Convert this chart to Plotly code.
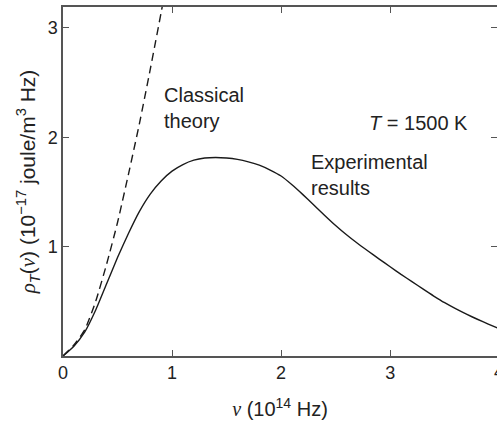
import plotly.graph_objects as go

exp_x = [0, 0.1, 0.2, 0.3, 0.4, 0.5, 0.6, 0.7, 0.8, 0.9, 1.0, 1.1, 1.2, 1.3, 1.4, 1.5,
         1.6, 1.7, 1.8, 1.9, 2.0, 2.1, 2.2, 2.3, 2.4, 2.5, 2.6, 2.7, 2.8, 2.9, 3.0,
         3.1, 3.2, 3.3, 3.4, 3.5, 3.6, 3.7, 3.8, 3.9, 4.0]
exp_y = [0, 0.09, 0.22, 0.42, 0.66, 0.90, 1.12, 1.32, 1.48, 1.60, 1.69, 1.75, 1.79, 1.81,
         1.815, 1.81, 1.797, 1.775, 1.745, 1.70, 1.645, 1.565, 1.475, 1.38, 1.285, 1.193,
         1.108, 1.03, 0.957, 0.886, 0.816, 0.746, 0.68, 0.613, 0.548, 0.487, 0.432, 0.382,
         0.336, 0.292, 0.25]

# Classical theory (dashed)
cls_x = [0, 0.1, 0.2, 0.3, 0.4, 0.5, 0.6, 0.7, 0.8, 0.9, 0.93]
cls_y = [0, 0.10, 0.24, 0.50, 0.84, 1.22, 1.66, 2.12, 2.62, 3.14, 3.30]

x_ticks = [0, 1, 2, 3]
y_ticks = [1, 2, 3]

ink = "#1a1a1a"
axis_col = "#555555"
FONT = "Liberation Sans, Arial, Helvetica, sans-serif"
SERIF = "'Liberation Serif', 'Times New Roman', serif"

fig = go.Figure()
fig.add_trace(go.Scatter(x=exp_x, y=exp_y, mode="lines",
                         line=dict(color=ink, width=1.4, shape="spline", smoothing=0.5),
                         showlegend=False, hoverinfo="skip"))
fig.add_trace(go.Scatter(x=cls_x, y=cls_y, mode="lines",
                         line=dict(color=ink, width=1.4, dash="8px,5px", shape="spline", smoothing=0.5),
                         showlegend=False, hoverinfo="skip"))
# invisible trace on right axis to carry mirrored ticks
fig.add_trace(go.Scatter(x=[0], y=[0], yaxis="y2", mode="markers",
                         marker=dict(opacity=0), showlegend=False, hoverinfo="skip"))

nu = f"<span style=\"font-family:{SERIF}\"><i>ν</i></span>"
rho = f"<span style=\"font-family:{SERIF}\"><i>ρ</i></span>"

fig.update_layout(
    width=497, height=422,
    margin=dict(l=63, r=0, t=7, b=66),
    paper_bgcolor="white", plot_bgcolor="white",
    font=dict(family=FONT, color="#222222", size=18),
    xaxis=dict(range=[0, 3.98], tickvals=x_ticks, ticks="inside", ticklen=6,
               tickcolor=axis_col, showline=True, linecolor=axis_col, linewidth=1.5,
               mirror="ticks", showgrid=False, zeroline=False,
               tickfont=dict(size=18),
               title=dict(text=f"{nu} (10<sup>14</sup> Hz)", font=dict(size=20), standoff=20)),
    yaxis=dict(range=[0, 3.19], tickvals=y_ticks, ticks="inside", ticklen=6,
               tickcolor=axis_col, showline=True, linecolor=axis_col, linewidth=1.5,
               mirror=False, showgrid=False, zeroline=False,
               tickfont=dict(size=18),
               title=dict(text=f"{rho}<sub><i>T</i></sub>({nu}) (10<sup>−17</sup> joule/m<sup>3</sup> Hz)",
                          font=dict(size=21), standoff=6)),
    yaxis2=dict(range=[0, 3.19], tickvals=y_ticks, ticks="inside", ticklen=6,
                tickcolor=axis_col, overlaying="y", side="right", showline=False,
                showticklabels=False, showgrid=False, zeroline=False),
    annotations=[
        dict(x=0.908, y=2.27, xref="x", yref="y", text="Classical<br>theory",
             showarrow=False, xanchor="left", yanchor="middle", align="left",
             font=dict(size=20)),
        dict(x=2.79, y=2.13, xref="x", yref="y", text="<i>T</i> = 1500 K",
             showarrow=False, xanchor="left", yanchor="middle", align="left",
             font=dict(size=20)),
        dict(x=2.26, y=1.65, xref="x", yref="y", text="Experimental<br>results",
             showarrow=False, xanchor="left", yanchor="middle", align="left",
             font=dict(size=20)),
        dict(x=(499 - 63) / 434, y=0, xref="paper", yref="paper", text="4",
             showarrow=False, xanchor="center", yanchor="top", yshift=-4,
             font=dict(size=18)),
    ],
)

fig.write_html("out.html", config={"displayModeBar": False},
               post_script="document.body.style.margin='0';document.body.style.overflow='hidden';")
